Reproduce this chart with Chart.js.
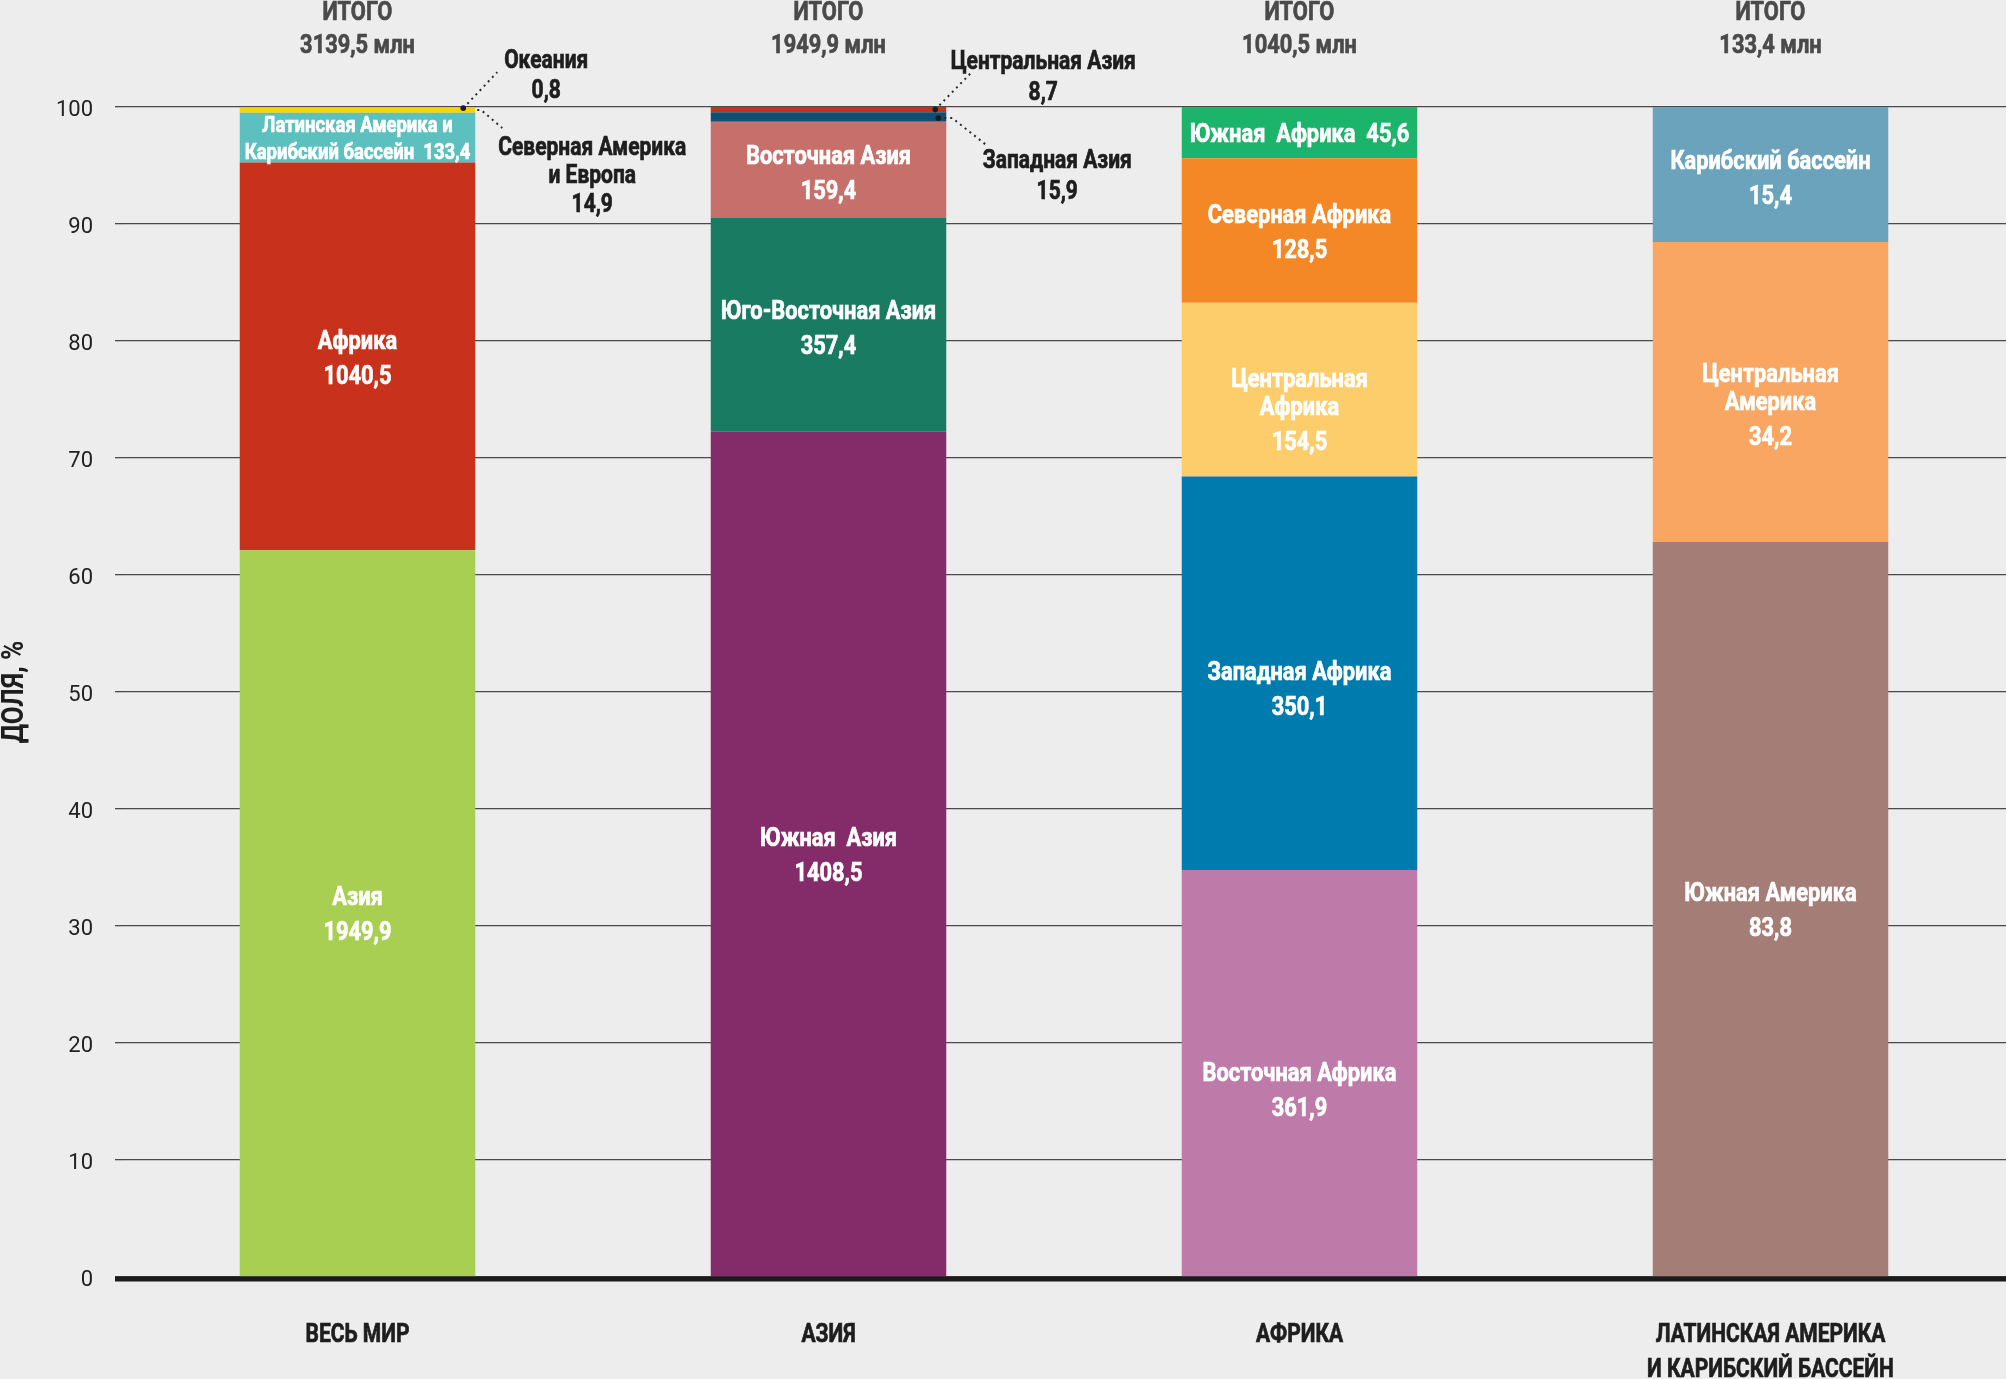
<!DOCTYPE html>
<html>
<head>
<meta charset="utf-8">
<script src="https://cdn.jsdelivr.net/npm/chart.js@4.4.1/dist/chart.umd.min.js"></script>
<style>
html, body { margin: 0; padding: 0; background: #ededed; }
canvas { display: block; }
</style>
</head>
<body>
<canvas id="mycanvas" width="2006" height="1379"></canvas>
<script>
// categories and totals (млн)
var categories = ['ВЕСЬ МИР', 'АЗИЯ', 'АФРИКА', ['ЛАТИНСКАЯ АМЕРИКА', 'И КАРИБСКИЙ БАССЕЙН']];
var totals = [3139.5, 1949.9, 1040.5, 133.4];
var yTicks = [0, 10, 20, 30, 40, 50, 60, 70, 80, 90, 100];

// segments, bottom to top
var worldNames = ['Азия', 'Африка', 'Латинская Америка и\nКарибский бассейн', 'Северная Америка\nи Европа', 'Океания'];
var worldValues = [1949.9, 1040.5, 133.4, 14.9, 0.8];

var asiaNames = ['Южная  Азия', 'Юго-Восточная Азия', 'Восточная Азия', 'Западная Азия', 'Центральная Азия'];
var asiaValues = [1408.5, 357.4, 159.4, 15.9, 8.7];

var africaNames = ['Восточная Африка', 'Западная Африка', 'Центральная\nАфрика', 'Северная Африка', 'Южная  Африка'];
var africaValues = [361.9, 350.1, 154.5, 128.5, 45.6];

var latamNames = ['Южная Америка', 'Центральная\nАмерика', 'Карибский бассейн'];
var latamValues = [83.8, 34.2, 15.4];

// how each segment is labelled: in = name + value below, inline = value on last line, small = inline & smaller, out = callout
var worldMode = ['in', 'in', 'small', 'out', 'out'];
var asiaMode = ['in', 'in', 'in', 'out', 'out'];
var africaMode = ['in', 'in', 'in', 'in', 'inline'];
var latamMode = ['in', 'in', 'in'];

// label nudges (px, downwards)
var worldShift = [0, 0, 0, 0, 0];
var asiaShift = [0, 2, 2, 0, 0];
var africaShift = [16, 15, 19, 0, 0];
var latamShift = [0, 12, 2];

var worldColors = ['#a8cf52', '#c8321d', '#5bc0be', '#f6d600', '#1b3b5a'];
var asiaColors = ['#842b6a', '#1a7b63', '#c7706b', '#0f4f6f', '#c8321d'];
var africaColors = ['#be7aa8', '#007bad', '#fecd6b', '#f48726', '#1cb46b'];
var latamColors = ['#a47d76', '#f8a662', '#6aa3bb'];

var groups = [
	{ names: worldNames, values: worldValues, mode: worldMode, shift: worldShift, colors: worldColors },
	{ names: asiaNames, values: asiaValues, mode: asiaMode, shift: asiaShift, colors: asiaColors },
	{ names: africaNames, values: africaValues, mode: africaMode, shift: africaShift, colors: africaColors },
	{ names: latamNames, values: latamValues, mode: latamMode, shift: latamShift, colors: latamColors }
];

// callouts: offsets from (bar right edge, segment middle)
var callouts = [
	{ cat: 0, seg: 4, dot: true, path: [[-12, 1], [22, -35]], tx: 71, ty: [-39, -9] },
	{ cat: 0, seg: 3, dot: false, path: [[2, 0], [6, 0], [27, 18]], tx: 117, ty: [45, 73, 102] },
	{ cat: 1, seg: 4, dot: true, path: [[-11, 0], [26, -38]], tx: 97, ty: [-41, -10] },
	{ cat: 1, seg: 3, dot: true, path: [[-8, 1], [6, 1], [40, 28]], tx: 111, ty: [51, 82] }
];

var SQ = 0.84; // condensed look
var FONT = 'Roboto, "Liberation Sans", "DejaVu Sans", sans-serif';

function fmt(v) {
	return v.toFixed(1).replace('.', ',');
}

function sum(a) {
	return a.reduce(function (s, v) { return s + v; }, 0);
}

function txt(ctx, s, x, y, size, color) {
	ctx.save();
	ctx.font = 'bold ' + size + 'px ' + FONT;
	ctx.fillStyle = color;
	ctx.strokeStyle = color;
	ctx.lineWidth = 0.7;
	ctx.textAlign = 'center';
	ctx.textBaseline = 'alphabetic';
	ctx.translate(x, y);
	ctx.scale(SQ, 1);
	ctx.fillText(s, 0, 0);
	ctx.strokeText(s, 0, 0);
	ctx.restore();
}

var datasets = [];
for (var k = 0; k < 5; k++) {
	datasets.push({
		label: 'layer ' + k,
		data: groups.map(function (g) {
			return g.values[k] == null ? null : g.values[k] / sum(g.values) * 100;
		}),
		backgroundColor: groups.map(function (g) { return g.colors[k] || '#000'; }),
		borderWidth: 0,
		barPercentage: 0.5,
		categoryPercentage: 1.0
	});
}

var textPlugin = {
	id: 'textPlugin',
	beforeDraw: function (chart) {
		var ctx = chart.ctx;
		ctx.save();
		ctx.fillStyle = '#ededed';
		ctx.fillRect(0, 0, chart.width, chart.height);
		ctx.restore();
	},
	afterDatasetsDraw: function (chart) {
		var ctx = chart.ctx;
		var area = chart.chartArea;

		// thick base line
		ctx.save();
		ctx.strokeStyle = '#1b1b1b';
		ctx.lineWidth = 5;
		ctx.beginPath();
		ctx.moveTo(area.left - 7, area.bottom + 2);
		ctx.lineTo(area.right, area.bottom + 2);
		ctx.stroke();
		ctx.restore();

		groups.forEach(function (g, i) {
			var first = chart.getDatasetMeta(0).data[i];
			// totals on top
			txt(ctx, 'ИТОГО', first.x, area.top - 87, 26, '#4a4a4a');
			txt(ctx, fmt(totals[i]) + ' млн', first.x, area.top - 54, 26, '#4a4a4a');
			// category labels
			var cat = [].concat(categories[i]);
			cat.forEach(function (c, j) {
				txt(ctx, c, first.x, area.bottom + 65 + j * 35, 25, '#1e1e1e');
			});

			g.names.forEach(function (name, k) {
				var bar = chart.getDatasetMeta(k).data[i];
				var mode = g.mode[k];
				if (mode === 'out') return;
				var mid = (bar.y + bar.base) / 2 + g.shift[k];
				var lines = name.split('\n');
				var size = 26, gap = 28, vgap = 35;
				if (mode === 'in') {
					lines.push(fmt(g.values[k]));
				} else {
					lines[lines.length - 1] += '  ' + fmt(g.values[k]);
				}
				if (mode === 'small') { size = 22; gap = 27; vgap = 27; }
				var ys = [0];
				for (var j = 1; j < lines.length; j++) {
					var step = (mode === 'in' && j === lines.length - 1) ? vgap : gap;
					ys.push(ys[j - 1] + step);
				}
				var span = ys[ys.length - 1];
				var b0 = mid - span / 2 + size * 0.37;
				lines.forEach(function (l, j) {
					txt(ctx, l, bar.x, b0 + ys[j], size, '#ffffff');
				});
			});
		});

		// callouts with dotted leaders
		callouts.forEach(function (c) {
			var bar = chart.getDatasetMeta(c.seg).data[c.cat];
			var rx = bar.x + bar.width / 2;
			var my = (bar.y + bar.base) / 2;
			ctx.save();
			ctx.strokeStyle = '#2a2a2a';
			ctx.lineWidth = 2;
			ctx.setLineDash([2, 4]);
			ctx.beginPath();
			c.path.forEach(function (p, j) {
				if (j === 0) ctx.moveTo(rx + p[0], my + p[1]);
				else ctx.lineTo(rx + p[0], my + p[1]);
			});
			ctx.stroke();
			if (c.dot) {
				ctx.setLineDash([]);
				ctx.fillStyle = '#1b1b1b';
				ctx.beginPath();
				ctx.arc(rx + c.path[0][0], my + c.path[0][1], 2.8, 0, Math.PI * 2);
				ctx.fill();
			}
			ctx.restore();
			var g = groups[c.cat];
			var lines = g.names[c.seg].split('\n');
			lines.push(fmt(g.values[c.seg]));
			lines.forEach(function (l, j) {
				txt(ctx, l, rx + c.tx, my + c.ty[j], 25, '#1e1e1e');
			});
		});

		// y axis title
		ctx.save();
		ctx.translate(15, (area.top + area.bottom) / 2);
		ctx.rotate(-Math.PI / 2);
		ctx.scale(SQ, 1);
		ctx.font = 'bold 31px ' + FONT;
		ctx.fillStyle = '#1e1e1e';
		ctx.textAlign = 'center';
		ctx.textBaseline = 'middle';
		ctx.fillText('ДОЛЯ, %', 0, 0);
		ctx.restore();
	}
};

var ctx = document.getElementById('mycanvas');
var barGraph = new Chart(ctx, {
	type: 'bar',
	data: {
		labels: categories,
		datasets: datasets
	},
	options: {
		responsive: false,
		animation: false,
		layout: { padding: { top: 107, bottom: 102, left: 0, right: 0 } },
		plugins: {
			legend: { display: false },
			tooltip: { enabled: false }
		},
		scales: {
			x: {
				stacked: true,
				display: false
			},
			y: {
				stacked: true,
				min: 0,
				max: 100,
				afterBuildTicks: function (axis) {
					axis.ticks = yTicks.map(function (v) { return { value: v }; });
				},
				afterFit: function (axis) {
					axis.width = 122;
				},
				border: { display: false },
				grid: {
					color: '#4a4a4a',
					lineWidth: 1.3,
					tickLength: 7
				},
				ticks: {
					padding: 22,
					labelOffset: 3,
					color: '#222',
					font: { family: FONT, size: 22 }
				}
			}
		}
	},
	plugins: [textPlugin]
});
</script>
</body>
</html>
